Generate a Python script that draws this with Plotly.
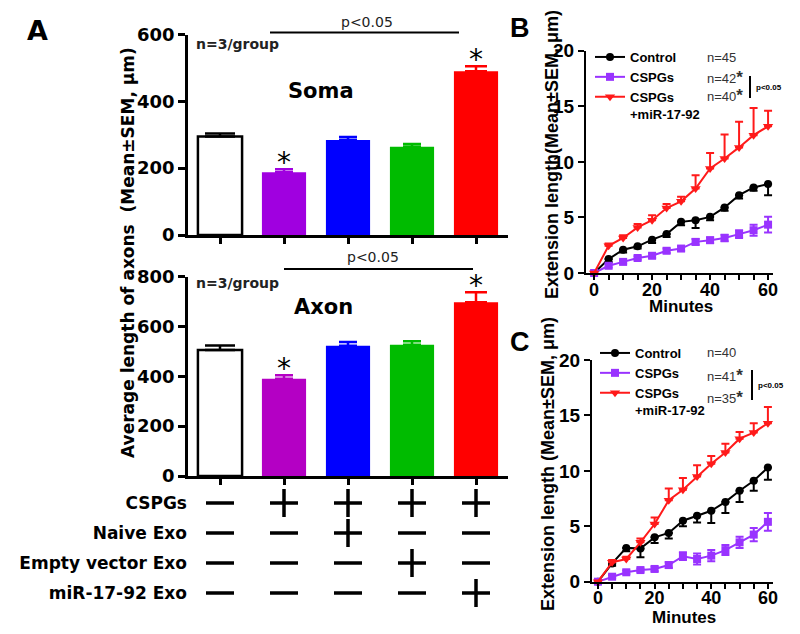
import plotly.graph_objects as go

# ---------------- data ----------------
groups = ["Control", "CSPGs", "CSPGs+Naive Exo", "CSPGs+Empty vector Exo", "CSPGs+miR-17-92 Exo"]
soma_mean = [295, 188, 284, 264, 490]
soma_sem = [9, 9, 9, 8, 15]
axon_mean = [505, 390, 522, 526, 697]
axon_sem = [18, 14, 15, 14, 40]
significant = [False, True, False, False, True]

table_rows = ["CSPGs", "Naive Exo", "Empty vector Exo", "miR-17-92 Exo"]
table_signs = [
    [0, 1, 1, 1, 1],
    [0, 0, 1, 0, 0],
    [0, 0, 0, 1, 0],
    [0, 0, 0, 0, 1],
]

minutes = [0, 5, 10, 15, 20, 25, 30, 35, 40, 45, 50, 55, 60]
series_names = ["Control", "CSPGs", "CSPGs<br>+miR-17-92"]

b_control = [0, 1.25, 2.1, 2.4, 3.0, 3.5, 4.6, 4.75, 5.05, 5.9, 7.0, 7.7, 8.0]
b_control_sem = [0, 0.25, 0.25, 0.2, 0.3, 0.25, 0.3, 0.7, 0.3, 0.3, 0.3, 0.3, 1.0]
b_cspg = [0, 0.65, 1.0, 1.35, 1.55, 2.0, 2.2, 2.8, 2.95, 3.15, 3.5, 3.85, 4.35]
b_cspg_sem = [0, 0.15, 0.15, 0.15, 0.2, 0.2, 0.2, 0.25, 0.25, 0.3, 0.35, 0.5, 0.7]
b_mir = [0, 2.45, 3.15, 4.1, 4.75, 5.85, 6.45, 7.6, 9.4, 10.3, 11.3, 12.4, 13.2]
b_mir_sem = [0, 0.2, 0.25, 0.3, 0.45, 0.35, 0.4, 1.2, 1.4, 2.15, 2.3, 2.45, 1.4]
b_n = ["n=45", "n=42", "n=40"]

c_control = [0, 1.65, 3.05, 3.0, 4.0, 4.4, 5.5, 5.95, 6.4, 7.2, 8.2, 9.1, 10.3]
c_control_sem = [0, 0.2, 0.3, 0.8, 0.5, 0.5, 0.5, 0.6, 1.1, 1.0, 1.0, 0.9, 1.1]
c_cspg = [0, 0.45, 0.85, 1.05, 1.15, 1.5, 2.3, 2.05, 2.35, 2.85, 3.55, 4.25, 5.4]
c_cspg_sem = [0, 0.15, 0.15, 0.15, 0.2, 0.25, 0.35, 0.5, 0.5, 0.45, 0.5, 0.6, 0.8]
c_mir = [0, 1.75, 2.05, 3.55, 5.2, 7.35, 8.3, 9.5, 10.65, 11.65, 12.9, 13.45, 14.3]
c_mir_sem = [0, 0.2, 0.2, 0.35, 0.6, 1.05, 1.05, 1.0, 0.7, 0.8, 0.6, 0.85, 1.45]
c_n = ["n=40", "n=41", "n=35"]

# ---------------- styles ----------------
bar_colors = ["white", "#A000E0", "#0000FF", "#00BB00", "#FF0000"]
axon_colors = ["white", "#B400C4", "#0000FF", "#00BB00", "#FF0000"]
line_colors = ["#000000", "#9933FF", "#FF1A1A"]
line_symbols = ["circle", "square", "triangle-down"]
FA = "DejaVu Sans"
FB = "Liberation Sans"
W, H = 800, 634


def px(x):
    return x / W


def py(y):
    return 1 - y / H


fig = go.Figure()

# ---------------- panel A bars ----------------
for axis_id, means, sems, cols in [("", soma_mean, soma_sem, bar_colors), ("2", axon_mean, axon_sem, axon_colors)]:
    for i, g in enumerate(groups):
        white = cols[i] == "white"
        fig.add_trace(go.Bar(
            x=[g], y=[means[i]], width=0.69,
            marker=dict(color=cols[i], line=dict(color="black" if white else cols[i], width=2.5 if white else 0)),
            error_y=dict(type="data", symmetric=False, array=[sems[i]], arrayminus=[0],
                         color="black" if white else cols[i], thickness=2.5, width=15 if white else (11 if i == 4 else 9)),
            xaxis="x" + axis_id, yaxis="y" + axis_id, showlegend=False,
        ))
        if significant[i]:
            fig.add_annotation(x=g, y=means[i] + sems[i], xref="x" + axis_id, yref="y" + axis_id,
                               text="*", showarrow=False, yanchor="bottom", yshift=-12,
                               font=dict(family=FA, size=28, color="black"))

# ---------------- table ----------------
for sign, sym in [(1, "cross-thin"), (0, "line-ew")]:
    xs, ys = [], []
    for r, row in enumerate(table_rows):
        for c, g in enumerate(groups):
            if table_signs[r][c] == sign:
                xs.append(g)
                ys.append(row)
    fig.add_trace(go.Scatter(x=xs, y=ys, mode="markers", xaxis="x3", yaxis="y3", showlegend=False,
                             marker=dict(symbol=sym, size=20, line=dict(color="black", width=3.5)),
                             cliponaxis=False))

# ---------------- panels B & C ----------------
panels = [
    ("4", "legend", [b_control, b_cspg, b_mir], [b_control_sem, b_cspg_sem, b_mir_sem]),
    ("5", "legend2", [c_control, c_cspg, c_mir], [c_control_sem, c_cspg_sem, c_mir_sem]),
]
for axis_id, leg, vals, sems in panels:
    for k in range(3):
        if k == 0:
            err = dict(array=[0] * len(sems[k]), arrayminus=sems[k])
        elif k == 2:
            err = dict(array=sems[k], arrayminus=[0] * len(sems[k]))
        else:
            err = dict(array=sems[k], arrayminus=sems[k])
        fig.add_trace(go.Scatter(
            x=minutes, y=vals[k], mode="lines+markers", name=series_names[k],
            xaxis="x" + axis_id, yaxis="y" + axis_id, legend=leg, cliponaxis=False,
            line=dict(color=line_colors[k], width=2),
            marker=dict(symbol=line_symbols[k], size=9 if k == 2 else 8, color=line_colors[k]),
            error_y=dict(type="data", symmetric=False, color=line_colors[k], thickness=2, width=4, **err),
        ))

# ---------------- axes ----------------
ax_common = dict(showline=True, linecolor="black", ticks="outside", tickcolor="black",
                 showgrid=False, zeroline=False, automargin=False)
a_x = dict(domain=[px(188), px(508)], range=[-0.5, 4.5], type="category", categoryarray=groups,
           showticklabels=False, linewidth=2.5, tickwidth=2.5, ticklen=6, **ax_common)
fig.update_layout(
    xaxis=dict(anchor="y", **a_x),
    xaxis2=dict(anchor="y2", **a_x),
    yaxis=dict(anchor="x", domain=[py(235), py(34.5)], range=[0, 600], tickvals=[0, 200, 400, 600],
               linewidth=2.5, tickwidth=2.5, ticklen=7,
               tickfont=dict(family=FA, size=18, weight="bold", color="black"), **ax_common),
    yaxis2=dict(anchor="x2", domain=[py(476), py(276.5)], range=[0, 800], tickvals=[0, 200, 400, 600, 800],
                linewidth=2.5, tickwidth=2.5, ticklen=7,
                tickfont=dict(family=FA, size=18, weight="bold", color="black"), **ax_common),
    xaxis3=dict(anchor="y3", domain=[px(188), px(508)], range=[-0.5, 4.5], type="category",
                categoryarray=groups, visible=False, automargin=False),
    yaxis3=dict(anchor="x3", domain=[py(608), py(488)], range=[3.5, -0.5], type="category",
                categoryarray=table_rows, showline=False, showgrid=False, zeroline=False, ticks="",
                automargin=False, tickfont=dict(family=FA, size=17, weight="bold", color="black")),
)

bc_x = dict(tickvals=[0, 20, 40, 60], linewidth=2, tickwidth=2, ticklen=5, ticklabelstandoff=-6,
            minor=dict(dtick=5, ticks="outside", ticklen=5, tickwidth=2, tickcolor="black"),
            tickfont=dict(family=FB, size=18, weight="bold", color="black"), **ax_common)
bc_y = dict(range=[0, 20], tickvals=[0, 5, 10, 15, 20], linewidth=2, tickwidth=2, ticklen=6,
            tickfont=dict(family=FB, size=19, weight="bold", color="black"), **ax_common)
fig.update_layout(
    xaxis4=dict(anchor="y4", domain=[px(586), px(773)], range=[-2.8, 61.7], **bc_x),
    yaxis4=dict(anchor="x4", domain=[py(273), py(50.7)], **bc_y),
    xaxis5=dict(anchor="y5", domain=[px(592), px(773)], range=[-2.1, 61.8], **bc_x),
    yaxis5=dict(anchor="x5", domain=[py(581.7), py(360)], **bc_y),
)

leg_common = dict(xanchor="left", yanchor="top", bgcolor="rgba(0,0,0,0)", valign="top",
                  tracegroupgap=0, font=dict(family=FB, size=13, weight="bold", color="black"))
fig.update_layout(
    legend=dict(x=px(590), y=py(42), **leg_common),
    legend2=dict(x=px(595), y=py(338), **leg_common),
)

# ---------------- annotations ----------------
def ann(x, y, text, size, family=FA, weight="bold", color="black", xanchor="center", angle=0):
    fig.add_annotation(x=px(x), y=py(y), xref="paper", yref="paper", text=text, showarrow=False,
                       xanchor=xanchor, yanchor="middle", textangle=angle,
                       font=dict(family=family, size=size, weight=weight, color=color))

ann(37, 30, "A", 27)
ann(520, 28, "B", 27, family=FB)
ann(520, 342, "C", 27, family=FB)

ann(128, 253, "Average length of axons  (Mean\u00b1SEM, \u03bcm)", 17, angle=-90)
ann(194, 44, "n=3/group", 14, xanchor="left", color="#222")
ann(194, 283, "n=3/group", 14, xanchor="left", color="#222")
ann(321, 91, "Soma", 21)
ann(323, 307, "Axon", 21)
ann(367, 22, "p<0.05", 14, weight="normal", color="#222")
ann(373, 257, "p<0.05", 14, weight="normal", color="#222")
fig.add_shape(type="line", xref="paper", yref="paper", x0=px(270), x1=px(459), y0=py(32.5), y1=py(32.5),
              line=dict(color="black", width=2))
fig.add_shape(type="line", xref="paper", yref="paper", x0=px(284), x1=px(473), y0=py(269), y1=py(269),
              line=dict(color="black", width=2))

ann(552, 155, "Extension length(Mean\u00b1SEM, \u03bcm)", 18, family=FB, angle=-90)
ann(548, 464, "Extension length (Mean\u00b1SEM, \u03bcm)", 18, family=FB, angle=-90)
ann(681, 306, "Minutes", 17, family=FB)
ann(684, 617, "Minutes", 17, family=FB)

star = "<span style='font-size:17px'><b>*</b></span>"
for labels, ys, xb, ybar, pys in [(b_n, [57, 77, 96], 750, (76, 98), 87), (c_n, [352, 375, 397], 752, (370, 400), 385)]:
    for i, (lab, yy) in enumerate(zip(labels, ys)):
        ann(705, yy, lab + (star if i > 0 else ""), 13, family=FB, weight="normal", color="#333", xanchor="left")
    fig.add_shape(type="line", xref="paper", yref="paper", x0=px(xb), x1=px(xb), y0=py(ybar[0]), y1=py(ybar[1]),
                  line=dict(color="black", width=2))
    ann(xb + 4, pys, "p<0.05", 8, family=FB, xanchor="left")

fig.update_layout(template="none", width=W, height=H,
                  margin=dict(l=0, r=0, t=0, b=0, autoexpand=False), barmode="overlay",
                  plot_bgcolor="white", paper_bgcolor="white")

fig.write_html("out.html", config={"displayModeBar": False},
               post_script="document.body.style.margin='0';document.body.style.padding='0';")
